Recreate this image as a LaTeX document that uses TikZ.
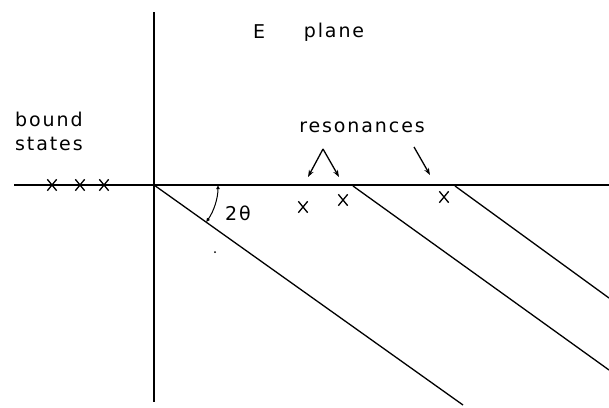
\documentclass[tikz,border=0pt]{standalone}
\usepackage{fontspec}
\setmainfont{DejaVu Sans}[LetterSpace=10]
\usetikzlibrary{shapes.misc,arrows.meta}
\begin{document}
\begin{tikzpicture}[x=1pt,y=-1pt,
  axis/.style={line width=1.6pt},
  cut/.style={line width=1.3pt},
  mk/.style={cross out,draw,line width=1.3pt,minimum width=8pt,minimum height=10pt,inner sep=0pt},
  lbl/.style={font=\fontsize{19}{24}\selectfont,inner sep=0pt},
  pointer/.style={line width=1.3pt,-{Stealth[length=7pt,width=5pt]}}]
\useasboundingbox (0,0) rectangle (609,407);
% axes
\coordinate (vtop) at (154,12);
\coordinate (vbot) at (154,402);
\coordinate (hl) at (14,185);
\coordinate (hr) at (609,185);
\coordinate (o) at (154,185);
\draw[axis] (vtop) -- (vbot);
\draw[axis] (hl) -- (hr);
% cuts
\coordinate (c1e) at (463,405);
\coordinate (c2s) at (353,186);
\coordinate (c2e) at (609,370);
\coordinate (c3s) at (455,186);
\coordinate (c3e) at (609,298);
\draw[cut] (o) -- (c1e);
\draw[cut] (c2s) -- (c2e);
\draw[cut] (c3s) -- (c3e);
% angle
\draw[line width=1pt,{Latex[length=4pt,width=4pt]}-{Latex[length=4pt,width=4pt]}] (154+64,185) arc[start angle=0,end angle=35.5,radius=64];
\node[lbl] (ang) at (238,213) {2θ};
% stray dot
\fill (215,252) circle[radius=1pt];
% bound states
\node[mk] (b1) at (52,185) {};
\node[mk] (b2) at (80,185) {};
\node[mk] (b3) at (104,185) {};
\node[lbl,align=left,anchor=west] (bs) at (15,131) {bound\\states};
% resonances
\node[mk] (r1) at (303,207) {};
\node[mk] (r2) at (343,200) {};
\node[mk] (r3) at (444,197) {};
\node[lbl] (res) at (362,127) {resonances};
\coordinate (apex) at (323,149);
\coordinate (a1) at (308,177);
\coordinate (a2) at (339,177);
\coordinate (t3) at (414,147);
\coordinate (a3) at (430,175);
\draw[pointer] (apex) -- (a1);
\draw[pointer] (apex) -- (a2);
\draw[pointer] (t3) -- (a3);
% title
\node[lbl] (E) at (259,32) {E};
\node[lbl] (pl) at (334,32) {plane};
\end{tikzpicture}
\end{document}
